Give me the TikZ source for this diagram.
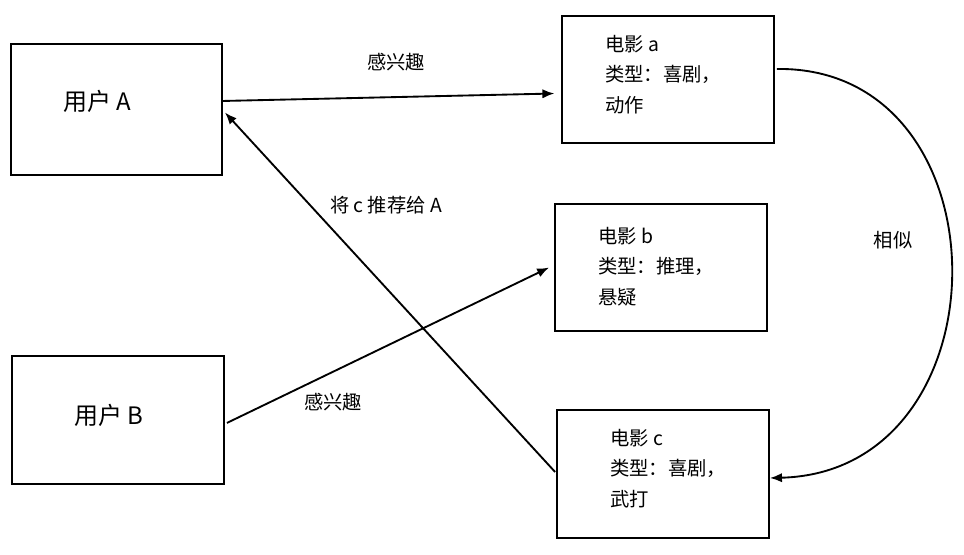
\documentclass[tikz,border=0pt]{standalone}
\usepackage{fontspec}
\setmainfont{Noto Sans CJK SC}
\usetikzlibrary{arrows.meta}
\begin{document}
\begin{tikzpicture}[x=0.75pt,y=-0.75pt,
  box/.style={draw,line width=1.4pt,rectangle,inner sep=0pt},
  usertext/.style={anchor=west,inner sep=0pt,font=\fontsize{18pt}{21pt}\selectfont},
  movietext/.style={anchor=north west,inner sep=0pt,align=left,font=\fontsize{14.5pt}{22.8pt}\selectfont},
  lbl/.style={inner sep=0pt,font=\fontsize{14.5pt}{17pt}\selectfont},
  conn/.style={line width=1.4pt,-{Latex[length=9pt,width=7pt]}}]
\useasboundingbox (0,0) rectangle (964,554);
% boxes
\node[box,minimum width=211*0.75pt,minimum height=131*0.75pt] (A) at (116.5,109.5) {};
\node[box,minimum width=212*0.75pt,minimum height=128*0.75pt] (B) at (118,420) {};
\node[box,minimum width=212*0.75pt,minimum height=127*0.75pt] (a) at (668,79.5) {};
\node[box,minimum width=212*0.75pt,minimum height=127*0.75pt] (b) at (661,267.5) {};
\node[box,minimum width=212*0.75pt,minimum height=128*0.75pt] (c) at (663,474) {};
% texts
\node[usertext] (tA) at (63,101) {用户 A};
\node[usertext] (tB) at (74,415) {用户 B};
\node[movietext] (ta) at (605,35) {电影 a\\类型：喜剧，\\动作};
\node[movietext] (tb) at (598,227) {电影 b\\类型：推理，\\悬疑};
\node[movietext] (tc) at (610,429) {电影 c\\类型：喜剧，\\武打};
% connectors
\draw[conn] ([yshift=6.4pt]A.east) -- ([xshift=-5pt,yshift=-10.5pt]a.west);
\node[lbl] (l1) at (396,62) {感兴趣};
\draw[conn] ([xshift=1.5pt,yshift=-2.2pt]B.east) -- ([xshift=-3.7pt]b.west);
\node[lbl] (l2) at (333,402) {感兴趣};
\draw[conn] ([xshift=-0.7pt,yshift=1.5pt]c.west) -- ([xshift=1.5pt,yshift=-2.2pt]A.east);
\node[lbl] (l3) at (386,205) {将 c 推荐给 A};
\draw[conn] ([xshift=1.5pt,yshift=7.9pt]a.east) .. controls (1010,66) and (1010,472) .. ([yshift=-3pt]c.east);
\node[lbl] (l4) at (893,240) {相似};
\end{tikzpicture}
\end{document}
